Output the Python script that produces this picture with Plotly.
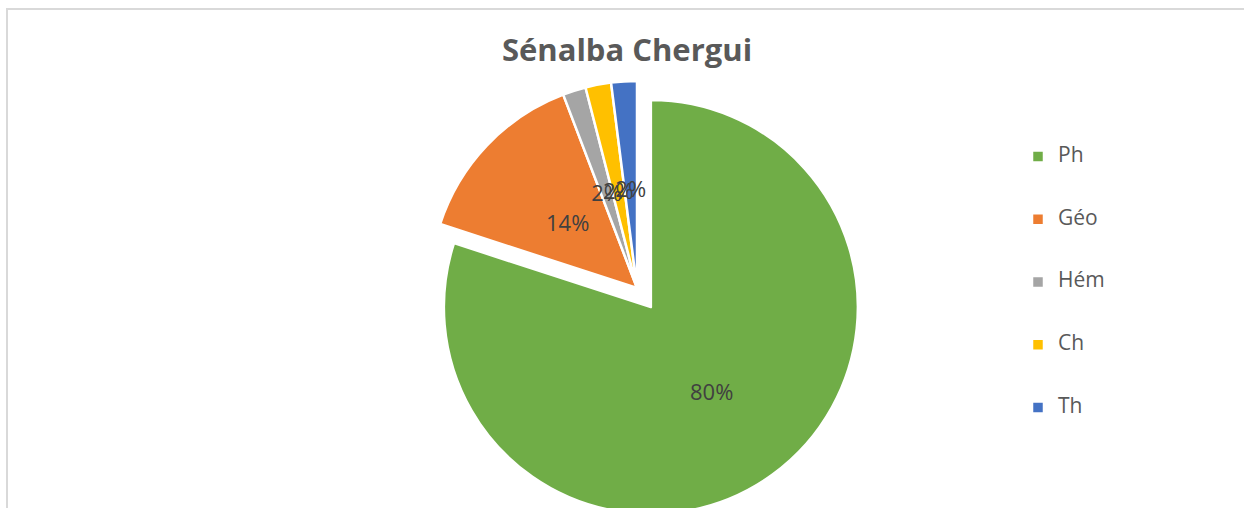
import plotly.graph_objects as go

# data
labels = ["Ph", "Géo", "Hém", "Ch", "Th"]
values = [80.0, 14.2, 1.8, 2.0, 2.0]
colors = ["#70AD47", "#ED7D31", "#A5A5A5", "#FFC000", "#4472C4"]
pulls = [0.114, 0, 0, 0, 0]
title = "Sénalba Chergui"

W, H = 1244, 530          # figure is a bit taller than the window, bottom gets cut like the original
CX, CY, R = 637, 288, 207  # pie centre / radius in px


def dom(r, pull=0.0):
    half = r * (1 + pull)
    return dict(x=[(CX - half) / W, (CX + half) / W],
                y=[(H - CY - half) / H, (H - CY + half) / H])


pct = "%{percent:.0%}"
txt_font = dict(family="Open Sans", size=22, color="#404040")

# legend labels: big legend font gives the wide row spacing, sup brings the text back down to size
legend_labels = ['<span style="font-size:30px"><sup>%s</sup></span>' % l for l in labels]

fig = go.Figure()
fig.add_trace(go.Pie(labels=legend_labels, values=values, sort=False, direction="clockwise",
                     rotation=0, pull=pulls,
                     marker=dict(colors=colors, line=dict(color="white", width=2.5)),
                     texttemplate=[pct, "", "", "", ""], textposition="inside",
                     insidetextorientation="horizontal", textfont=txt_font,
                     domain=dom(R, max(pulls)), hoverinfo="percent"))

# transparent copies of the pie, only used to put the small labels nearer the centre (like Excel)
for r_lab, tmpl in [(137, ["", pct, "", "", ""]), (106, ["", "", pct, pct, pct])]:
    fig.add_trace(go.Pie(labels=labels, values=values, sort=False, direction="clockwise",
                         rotation=0, showlegend=False,
                         marker=dict(colors=["rgba(0,0,0,0)"] * len(values), line=dict(width=0)),
                         texttemplate=tmpl, textposition="inside",
                         insidetextorientation="horizontal", textfont=txt_font,
                         domain=dom(r_lab), hoverinfo="skip"))

fig.update_layout(
    width=W, height=H,
    margin=dict(l=0, r=0, t=0, b=0, autoexpand=False),
    paper_bgcolor="white",
    title=dict(text=title, x=627 / W, xref="container", xanchor="center",
               y=1 - 50 / H, yref="container", yanchor="middle",
               font=dict(family="Open Sans", size=31, color="#595959", weight="bold")),
    legend=dict(x=1018 / W, xanchor="left", y=1 - 120 / H, yanchor="top",
                font=dict(family="Open Sans", size=46, color="#595959"),
                bgcolor="rgba(0,0,0,0)"),
    uniformtext=dict(minsize=22, mode="show"),
    shapes=[dict(type="rect", xref="paper", yref="paper",
                 x0=7 / W, x1=1.05, y0=-0.05, y1=1 - 9 / H,
                 line=dict(color="#d9d9d9", width=2))],
)

fig.write_html("out.html", config={"displayModeBar": False},
               post_script="document.body.style.margin='0';document.body.style.overflow='hidden';")
